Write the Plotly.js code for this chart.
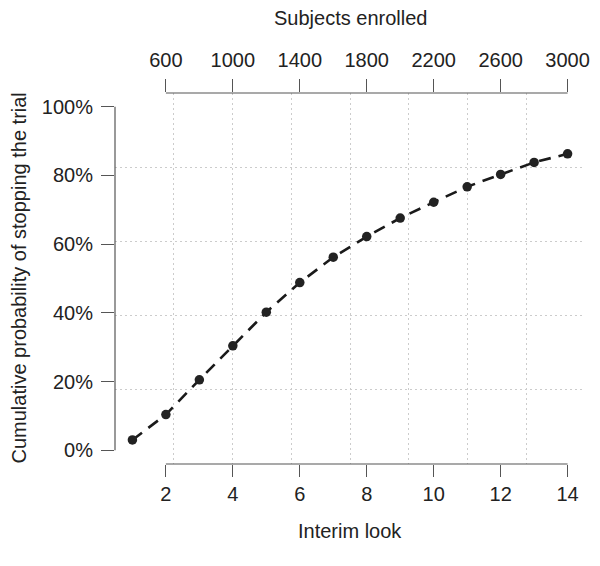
<!DOCTYPE html>
<html>
<head>
<meta charset="utf-8">
<script src="https://cdn.plot.ly/plotly-3.0.1.min.js"></script>
<style>html,body{margin:0;padding:0;background:#fff;}#chart{width:600px;height:566px;}</style>
</head>
<body>
<div id="chart"></div>
<script>
// ---- data ----
const looks = [1, 2, 3, 4, 5, 6, 7, 8, 9, 10, 11, 12, 13, 14];
const stopProb = [0.030, 0.104, 0.205, 0.304, 0.402, 0.488, 0.562, 0.622, 0.676, 0.722, 0.767, 0.803, 0.838, 0.863];
const lookTicks = [2, 4, 6, 8, 10, 12, 14];
const subjectTicks = [600, 1000, 1400, 1800, 2200, 2600, 3000];
const probTicks = [0, 0.2, 0.4, 0.6, 0.8, 1.0];
const probTickText = ["0%", "20%", "40%", "60%", "80%", "100%"];
const subjectsPerLook = 200, subjectsOffset = 200;

// ---- scales (R-style 4% expansion) ----
const xr = [looks[0] - 0.04 * (looks[looks.length-1] - looks[0]), looks[looks.length-1] + 0.04 * (looks[looks.length-1] - looks[0])];
const yr = [-0.04, 1.04];
const toSubj = v => v * subjectsPerLook + subjectsOffset;
const xGrid = [], yGrid = [];
for (let k = 1; k < 8; k++) xGrid.push(xr[0] + k * (xr[1] - xr[0]) / 8);
for (let k = 1; k < 5; k++) yGrid.push(yr[0] + k * (yr[1] - yr[0]) / 5);

const FONT = "Liberation Sans, Arial, Helvetica, sans-serif";
const TXT = "#222222", AX = "#555555", GRID = "#cccccc";

const trace = {
  x: looks, y: stopProb, type: "scatter", mode: "lines+markers",
  line: {color: "#1a1a1a", width: 2.6, dash: "12px,8px"},
  marker: {color: "#222222", size: 9.5},
  hoverinfo: "skip", showlegend: false
};
// invisible helper traces so overlay axes render
const helperTop = {x: [toSubj(xr[0])], y: [null], xaxis: "x2", yaxis: "y", type: "scatter", mode: "markers", showlegend: false, hoverinfo: "skip"};
const helperGrid = {x: [xr[0]], y: [null], xaxis: "x3", yaxis: "y2", type: "scatter", mode: "markers", showlegend: false, hoverinfo: "skip"};

const layout = {
  width: 600, height: 566,
  margin: {l: 115, r: 15, t: 93, b: 102, pad: 0},
  paper_bgcolor: "#fff", plot_bgcolor: "#fff",
  font: {family: FONT, size: 20, color: TXT},
  showlegend: false,
  xaxis: {
    range: xr, tickvals: lookTicks, ticks: "outside", ticklen: 12, tickwidth: 1.2, tickcolor: AX,
    showline: false, showgrid: false, zeroline: false, ticklabelstandoff: 0,
    tickfont: {family: FONT, size: 20, color: TXT}
  },
  xaxis2: {
    overlaying: "x", side: "top", range: [toSubj(xr[0]), toSubj(xr[1])], tickvals: subjectTicks,
    ticks: "outside", ticklen: 13, tickwidth: 1.2, tickcolor: AX, showline: false, showgrid: false, zeroline: false,
    ticklabelstandoff: 4, tickfont: {family: FONT, size: 20, color: TXT}
  },
  xaxis3: {
    overlaying: "x", range: xr, tickvals: xGrid, showticklabels: false, ticks: "",
    showgrid: true, gridcolor: GRID, gridwidth: 1, griddash: "2px,3px", zeroline: false, showline: false
  },
  yaxis: {
    range: yr, tickvals: probTicks, ticktext: probTickText, ticks: "outside", ticklen: 13, tickwidth: 1.2,
    tickcolor: AX, showline: false, showgrid: false, zeroline: false, ticklabelstandoff: 4,
    tickfont: {family: FONT, size: 20, color: TXT}
  },
  yaxis2: {
    overlaying: "y", range: yr, tickvals: yGrid, showticklabels: false, ticks: "",
    showgrid: true, gridcolor: GRID, gridwidth: 1, griddash: "2px,3px", zeroline: false, showline: false
  },
  shapes: [
    {type: "line", xref: "x", yref: "paper", x0: lookTicks[0], x1: lookTicks[lookTicks.length-1], y0: 0, y1: 0, line: {color: AX, width: 1.2}},
    {type: "line", xref: "x2", yref: "paper", x0: subjectTicks[0], x1: subjectTicks[subjectTicks.length-1], y0: 1, y1: 1, line: {color: AX, width: 1.2}},
    {type: "line", xref: "paper", yref: "y", x0: 0, x1: 0, y0: probTicks[0], y1: probTicks[probTicks.length-1], line: {color: AX, width: 1.2}}
  ],
  annotations: [
    {text: "Subjects enrolled", xref: "paper", yref: "paper", x: 0.5, y: 1, xanchor: "center", yanchor: "middle", yshift: 75, showarrow: false, font: {family: FONT, size: 20, color: TXT}},
    {text: "Interim look", xref: "paper", yref: "paper", x: 0.5, y: 0, xanchor: "center", yanchor: "middle", yshift: -67, showarrow: false, font: {family: FONT, size: 20, color: TXT}},
    {text: "Cumulative probability of stopping the trial", xref: "paper", yref: "paper", x: 0, y: 0.5, xanchor: "center", yanchor: "middle", xshift: -97, textangle: -90, showarrow: false, font: {family: FONT, size: 20, color: TXT}}
  ]
};

Plotly.newPlot("chart", [helperGrid, helperTop, trace], layout, {staticPlot: true, displayModeBar: false});
</script>
</body>
</html>
